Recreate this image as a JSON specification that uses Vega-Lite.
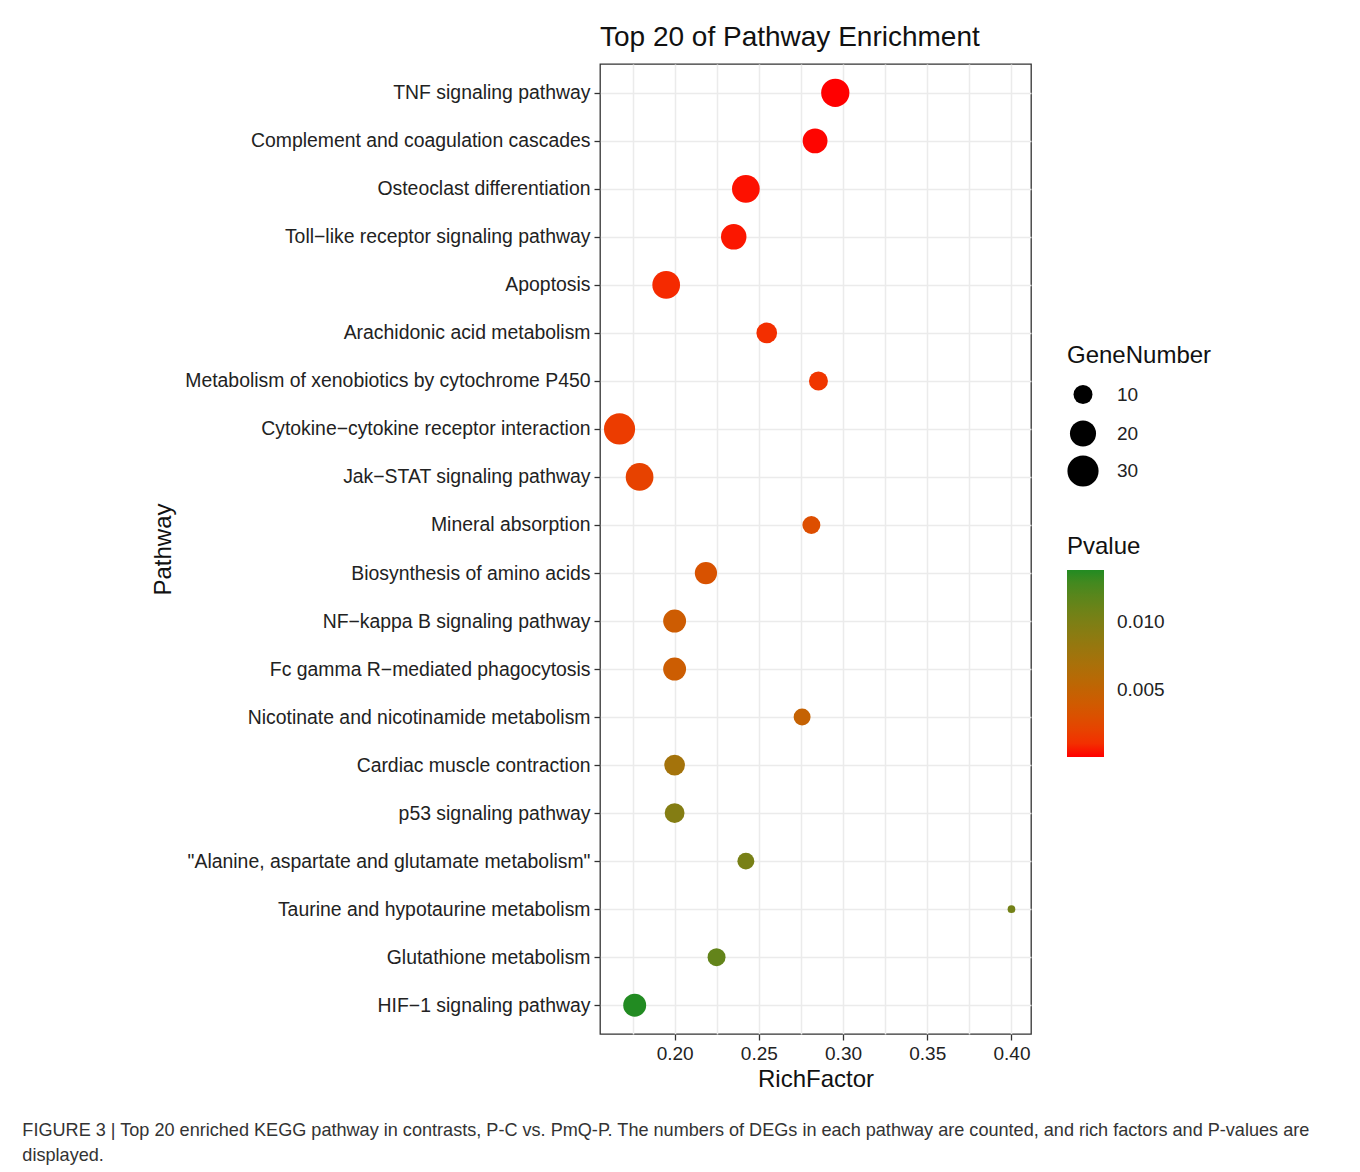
{
  "$schema": "https://vega.github.io/schema/vega-lite/v6.json",
  "background": "white",
  "padding": {"left": 22, "top": 23, "right": 10, "bottom": 5},
  "title": {
    "text": ["FIGURE 3 | Top 20 enriched KEGG pathway in contrasts, P-C vs. PmQ-P. The numbers of DEGs in each pathway are counted, and rich factors and P-values are", "displayed."],
    "orient": "bottom", "anchor": "start", "frame": "bounds", "dx": -128, "offset": 30,
    "fontSize": 18.1, "lineHeight": 25, "fontWeight": "normal", "color": "#333333", "font": "Liberation Sans"
  },
  "vconcat": [
    {
      "width": 431,
      "height": 970,
      "title": {"text": "Top 20 of Pathway Enrichment", "anchor": "start", "frame": "group", "fontSize": 28, "fontWeight": "normal", "color": "#111111", "offset": 12},
      "data": {
        "values": [
          {"Pathway": "TNF signaling pathway", "RichFactor": 0.2954, "GeneNumber": 24, "Pvalue": 0.000001},
          {"Pathway": "Complement and coagulation cascades", "RichFactor": 0.2834, "GeneNumber": 18, "Pvalue": 0.00005},
          {"Pathway": "Osteoclast differentiation", "RichFactor": 0.2423, "GeneNumber": 23, "Pvalue": 0.0002},
          {"Pathway": "Toll\u2212like receptor signaling pathway", "RichFactor": 0.2351, "GeneNumber": 19, "Pvalue": 0.0003},
          {"Pathway": "Apoptosis", "RichFactor": 0.195, "GeneNumber": 23, "Pvalue": 0.0008},
          {"Pathway": "Arachidonic acid metabolism", "RichFactor": 0.2547, "GeneNumber": 12, "Pvalue": 0.001},
          {"Pathway": "Metabolism of xenobiotics by cytochrome P450", "RichFactor": 0.2854, "GeneNumber": 10, "Pvalue": 0.0013},
          {"Pathway": "Cytokine\u2212cytokine receptor interaction", "RichFactor": 0.1673, "GeneNumber": 30, "Pvalue": 0.0016},
          {"Pathway": "Jak\u2212STAT signaling pathway", "RichFactor": 0.1792, "GeneNumber": 23, "Pvalue": 0.002},
          {"Pathway": "Mineral absorption", "RichFactor": 0.2812, "GeneNumber": 9, "Pvalue": 0.0028},
          {"Pathway": "Biosynthesis of amino acids", "RichFactor": 0.2186, "GeneNumber": 14, "Pvalue": 0.0032},
          {"Pathway": "NF\u2212kappa B signaling pathway", "RichFactor": 0.2, "GeneNumber": 15, "Pvalue": 0.0041},
          {"Pathway": "Fc gamma R\u2212mediated phagocytosis", "RichFactor": 0.2, "GeneNumber": 15, "Pvalue": 0.0042},
          {"Pathway": "Nicotinate and nicotinamide metabolism", "RichFactor": 0.2757, "GeneNumber": 8, "Pvalue": 0.0048},
          {"Pathway": "Cardiac muscle contraction", "RichFactor": 0.2, "GeneNumber": 12, "Pvalue": 0.0073},
          {"Pathway": "p53 signaling pathway", "RichFactor": 0.2, "GeneNumber": 11, "Pvalue": 0.0095},
          {"Pathway": "\"Alanine, aspartate and glutamate metabolism\"", "RichFactor": 0.2423, "GeneNumber": 8, "Pvalue": 0.0103},
          {"Pathway": "Taurine and hypotaurine metabolism", "RichFactor": 0.4, "GeneNumber": 4, "Pvalue": 0.0106},
          {"Pathway": "Glutathione metabolism", "RichFactor": 0.2249, "GeneNumber": 9, "Pvalue": 0.0115},
          {"Pathway": "HIF\u22121 signaling pathway", "RichFactor": 0.1763, "GeneNumber": 15, "Pvalue": 0.0139}
        ]
      },
      "mark": {"type": "circle", "opacity": 1, "strokeWidth": 0},
      "encoding": {
        "x": {
          "field": "RichFactor", "type": "quantitative",
          "scale": {"domain": [0.1557, 0.4116], "nice": false, "zero": false},
          "axis": {
            "title": "RichFactor",
            "values": [0.175, 0.2, 0.225, 0.25, 0.275, 0.3, 0.325, 0.35, 0.375, 0.4],
            "labelExpr": "abs(datum.value*20 - round(datum.value*20)) < 0.01 ? format(datum.value, '.2f') : ''",
            "tickOpacity": {"condition": {"test": "abs(datum.value*20 - round(datum.value*20)) < 0.01", "value": 1}, "value": 0},
            "labelOverlap": false, "labelFlush": false
          }
        },
        "y": {
          "field": "Pathway", "type": "nominal", "sort": null,
          "scale": {"type": "point", "padding": 0.6},
          "axis": {"title": "Pathway", "labelLimit": 500, "titlePadding": 225, "labelFontSize": 19.4}
        },
        "size": {
          "field": "GeneNumber", "type": "quantitative",
          "scale": {"domain": [4, 5, 6, 8, 10, 14, 20, 25, 30], "range": [59, 151, 203, 286, 360, 495, 681, 828, 971]},
          "legend": {
            "orient": "none", "legendX": 467, "legendY": 280,
            "values": [10, 20, 30], "title": "GeneNumber",
            "symbolFillColor": "black", "symbolStrokeWidth": 0, "symbolOpacity": 1, "symbolType": "circle",
            "labelOffset": 18, "rowPadding": 3, "gridAlign": "all", "titlePadding": 17
          }
        },
        "color": {
          "field": "Pvalue", "type": "quantitative",
          "scale": {"range": ["#ff0000", "#228b22"], "interpolate": "lab", "nice": false, "zero": false},
          "legend": {
            "orient": "none", "legendX": 467, "legendY": 471, "direction": "vertical",
            "gradientLength": 187, "gradientThickness": 37, "gradientStrokeWidth": 0,
            "values": [0.005, 0.01], "format": ".3f", "title": "Pvalue",
            "labelOffset": 13, "titlePadding": 11
          }
        }
      }
    }
  ],
  "resolve": {"scale": {"color": "independent", "size": "independent"}},
  "config": {
    "font": "Liberation Sans",
    "view": {"stroke": "#333333", "strokeWidth": 1.3},
    "axis": {
      "domain": false, "grid": true, "gridColor": "#ebebeb", "gridWidth": 1.5,
      "labelFontSize": 19, "labelColor": "#222222", "labelPadding": 4,
      "tickSize": 6, "tickColor": "#333333", "tickWidth": 1.3,
      "titleFontSize": 24, "titleFontWeight": "normal", "titleColor": "#111111"
    },
    "legend": {
      "titleFontSize": 24, "titleFontWeight": "normal", "titleColor": "#111111",
      "labelFontSize": 19, "labelColor": "#222222"
    }
  }
}
